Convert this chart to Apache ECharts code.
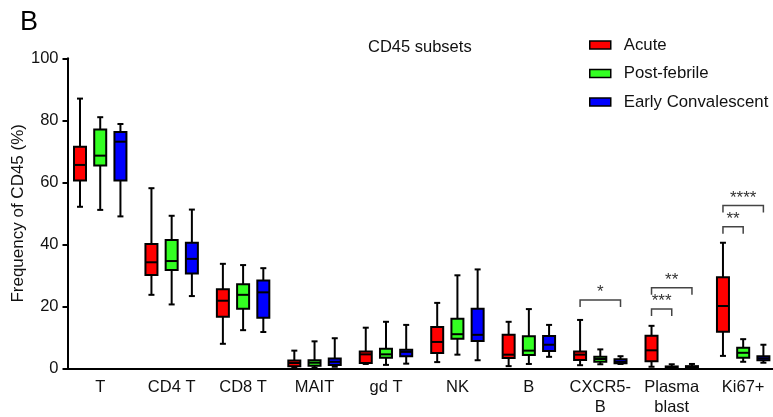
<!DOCTYPE html>
<html><head><meta charset="utf-8">
<script src="https://cdn.jsdelivr.net/npm/echarts@6/dist/echarts.min.js"></script>
<style>html,body{margin:0;padding:0;background:#fff}#c{width:773px;height:417px}</style>
</head><body><div id="c"></div>
<script>
const categories = ['T','CD4 T','CD8 T','MAIT','gd T','NK','B','CXCR5-\nB','Plasma\nblast','Ki67+'];
const seriesNames = ['Acute','Post-febrile','Early Convalescent'];
const seriesColors = ['#ff0000','#33ff22','#0000ff'];
// each entry: [min, Q1, median, Q3, max]
const acute = [
  [52.1,60.6,65.6,71.5,87.0],[23.7,30.1,34.2,40.1,58.1],[7.9,16.6,21.8,25.5,33.7],
  [0.3,0.7,1.7,2.5,5.7],[1.4,1.7,4.5,5.4,13.1],[2.0,4.9,8.5,13.3,21.1],
  [0.7,3.3,4.4,10.8,15.0],[1.0,2.7,4.4,5.4,15.6],[0.5,2.3,5.8,10.5,13.7],
  [4.0,11.8,20.1,29.4,40.5]
];
const postFebrile = [
  [51.1,65.4,68.6,77.0,81.0],[20.6,31.7,34.6,41.4,49.2],[12.3,19.2,23.7,27.1,33.3],
  [0.2,0.8,1.8,2.6,8.7],[1.1,3.4,4.5,6.3,15.0],[4.4,9.5,11.0,16.0,30.0],
  [1.4,4.3,5.7,10.3,19.1],[1.3,2.1,3.0,3.7,6.1],[0.0,0.1,0.3,0.6,1.3],
  [2.1,3.4,5.0,6.6,9.4]
];
const earlyConvalescent = [
  [49.0,60.6,73.1,76.2,78.8],[23.3,30.6,35.3,40.5,51.2],[11.7,16.3,24.5,28.3,32.3],
  [0.5,1.1,2.1,3.2,9.7],[1.5,3.9,5.3,6.0,14.0],[2.6,8.8,10.8,19.2,31.9],
  [3.7,5.6,7.6,10.4,14.0],[1.4,1.6,2.1,2.9,3.9],[0.05,0.2,0.4,0.7,1.4],
  [1.8,2.6,3.2,3.9,7.6]
];
const yTicks = [0,20,40,60,80,100];
// significance brackets: [categoryIndex, fromSeries, toSeries, yValue, label]
const brackets = [
  [7,0,2,22.0,'*'],
  [8,0,2,26.0,'**'],
  [8,0,1,19.1,'***'],
  [9,0,2,52.5,'****'],
  [9,0,1,45.7,'**']
];

const FONT = '"Liberation Sans", Arial, sans-serif';
const OFF = 0.283;

function boxRenderer(sIdx){
  return function(params, api){
    const c = api.value(0);
    const band = api.size([1,0])[0];
    const off = (sIdx-1)*band*OFF;
    const x = api.coord([c,0])[0] + off;
    const yMin = api.coord([c,api.value(1)])[1];
    const yQ1 = api.coord([c,api.value(2)])[1];
    const yMed = api.coord([c,api.value(3)])[1];
    const yQ3 = api.coord([c,api.value(4)])[1];
    const yMax = api.coord([c,api.value(5)])[1];
    const bw = 12, cap = 6;
    const ls = {stroke:'#000', lineWidth:2};
    return {type:'group', children:[
      {type:'line', shape:{x1:x,y1:yMax,x2:x,y2:yQ3}, style:ls},
      {type:'line', shape:{x1:x,y1:yQ1,x2:x,y2:yMin}, style:ls},
      {type:'line', shape:{x1:x-cap/2,y1:yMax,x2:x+cap/2,y2:yMax}, style:ls},
      {type:'line', shape:{x1:x-cap/2,y1:yMin,x2:x+cap/2,y2:yMin}, style:ls},
      {type:'rect', shape:{x:x-bw/2,y:yQ3,width:bw,height:Math.max(yQ1-yQ3,1)},
        style:{fill:seriesColors[sIdx], stroke:'#000', lineWidth:2}},
      {type:'line', shape:{x1:x-bw/2,y1:yMed,x2:x+bw/2,y2:yMed}, style:ls}
    ]};
  };
}

function bracketRenderer(params, api){
  const b = brackets[params.dataIndex];
  const c = b[0];
  const band = api.size([1,0])[0];
  const cx = api.coord([c,0])[0];
  const x1 = cx + (b[1]-1)*band*OFF;
  const x2 = cx + (b[2]-1)*band*OFF;
  const y = api.coord([c,b[3]])[1];
  const leg = 7;
  const ls = {stroke:'#444', lineWidth:1.5, fill:null};
  return {type:'group', children:[
    {type:'polyline', shape:{points:[[x1,y+leg],[x1,y],[x2,y],[x2,y+leg]]}, style:ls},
    {type:'text', x:(x1+x2)/2, y:y+1, style:{text:b[4], fill:'#333', font:'17px '+FONT, align:'center', verticalAlign:'bottom'}}
  ]};
}

const allData = [acute, postFebrile, earlyConvalescent];
const series = allData.map((arr,s)=>({
  name: seriesNames[s],
  type: 'custom',
  renderItem: boxRenderer(s),
  itemStyle: {color: seriesColors[s]},
  encode: {x:0, y:[1,2,3,4,5]},
  data: arr.map((v,i)=>[i].concat(v)),
  z: 3
}));
series.push({
  name: 'sig',
  type: 'custom',
  renderItem: bracketRenderer,
  encode: {x:0, y:3},
  data: brackets.map(b=>[b[0],b[1],b[2],b[3]]),
  silent: true,
  z: 4
});

const chart = echarts.init(document.getElementById('c'), null, {renderer:'canvas'});
chart.setOption({
  animation: false,
  backgroundColor: '#fff',
  title: [
    {text:'B', left:20, top:9, padding:0, textStyle:{fontFamily:FONT, fontSize:27, fontWeight:'normal', color:'#000'}},
    {text:'CD45 subsets', left:368, top:39, padding:0, textStyle:{fontFamily:FONT, fontSize:16.5, fontWeight:'normal', color:'#111'}}
  ],
  legend: {
    data: seriesNames.map(n=>({name:n, icon:'rect'})),
    orient: 'vertical', left: 589, top: 36, padding: 0,
    itemWidth: 21, itemHeight: 8, itemGap: 10.5,
    itemStyle: {borderColor:'#000', borderWidth:1.5},
    textStyle: {fontFamily:FONT, fontSize:16.8, color:'#111', lineHeight:18, padding:[0,0,0,8]}
  },
  grid: {left:64.5, top:58.3, width:714.4, bottom:48.7, containLabel:false, outerBoundsMode:'none'},
  xAxis: {
    type:'category', data:categories,
    axisLine:{lineStyle:{color:'#000', width:2}},
    axisTick:{alignWithLabel:true, length:5, lineStyle:{color:'#000', width:2}},
    axisLabel:{interval:0, fontFamily:FONT, fontSize:16.5, color:'#111', lineHeight:20, margin:9}
  },
  yAxis: {
    type:'value', min:yTicks[0], max:yTicks[yTicks.length-1], interval:yTicks[1]-yTicks[0],
    offset:-3,
    name:'Frequency of CD45 (%)', nameLocation:'middle', nameGap:41, nameRotate:90,
    nameMoveOverlap:false,
    nameTextStyle:{fontFamily:FONT, fontSize:17, color:'#111'},
    axisLine:{show:true, lineStyle:{color:'#000', width:2}},
    axisTick:{show:true, length:5, lineStyle:{color:'#000', width:2}},
    axisLabel:{fontFamily:FONT, fontSize:16.5, color:'#111', margin:9},
    splitLine:{show:false}
  },
  series: series
});
</script></body></html>
